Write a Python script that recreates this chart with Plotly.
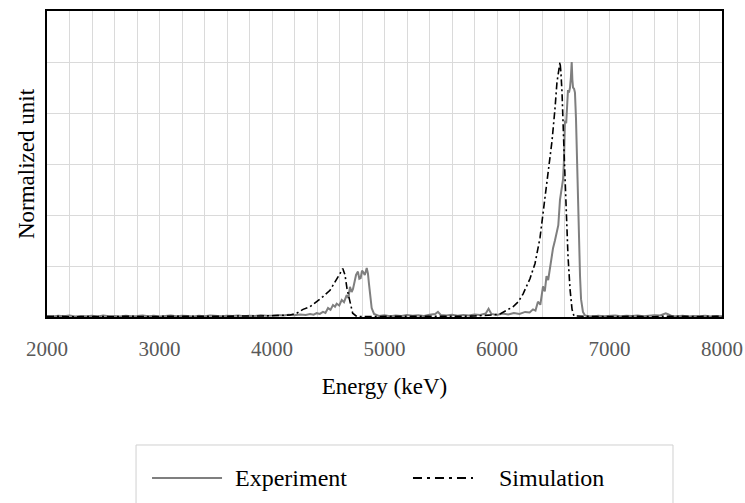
import plotly.graph_objects as go

# ---------------- data ----------------
exp_energy = [
    2000, 2050, 2100, 2150, 2200, 2250, 2300, 2350, 2400, 2450, 2500, 2550, 2600, 2650, 2700, 2750,
    2800, 2850, 2900, 2950, 3000, 3050, 3100, 3150, 3200, 3250, 3300, 3350, 3400, 3450, 3500, 3550,
    3600, 3650, 3700, 3750, 3800, 3850, 3900, 3950, 4000, 4050, 4100, 4150, 4200, 4250, 4300,
    4338, 4370, 4397, 4425, 4453, 4475, 4498, 4520, 4542, 4560, 4575, 4598, 4620, 4640, 4664, 4680,
    4693, 4708, 4720, 4735, 4747, 4764, 4776, 4788, 4800, 4809, 4825, 4842, 4853, 4862, 4871, 4886,
    4907, 4930,
    4950, 5000, 5050, 5100, 5150, 5200, 5250, 5300, 5350, 5400, 5450, 5475, 5500, 5550, 5600, 5650,
    5700, 5750, 5800, 5850, 5900, 5925, 5950, 6000, 6050, 6100, 6150, 6200, 6250, 6290,
    6320, 6342, 6364, 6385, 6409, 6425, 6440, 6455, 6471, 6485, 6498, 6515, 6533, 6545, 6560, 6575,
    6587, 6596, 6604, 6615, 6631, 6640, 6649, 6657, 6664, 6670, 6676, 6685, 6693, 6702, 6711, 6720,
    6729, 6738, 6747, 6756, 6764, 6782,
    6800, 6850, 6900, 6950, 7000, 7050, 7100, 7150, 7200, 7250, 7300, 7350, 7400, 7450, 7500, 7525,
    7550, 7600, 7650, 7700, 7750, 7800, 7850, 7900, 7950, 8000,
]
exp_counts = [
    0.004, 0.002, 0.005, 0.003, 0.006, 0.002, 0.004, 0.003, 0.005, 0.002, 0.006, 0.003, 0.004, 0.002, 0.005, 0.003,
    0.004, 0.006, 0.003, 0.005, 0.002, 0.004, 0.006, 0.003, 0.005, 0.004, 0.002, 0.005, 0.003, 0.006, 0.004, 0.003,
    0.005, 0.004, 0.006, 0.003, 0.005, 0.004, 0.007, 0.005, 0.006, 0.008, 0.006, 0.009, 0.007, 0.010, 0.008,
    0.012, 0.009, 0.015, 0.012, 0.020, 0.016, 0.035, 0.028, 0.047, 0.040, 0.052, 0.045, 0.067, 0.058, 0.086, 0.075,
    0.118, 0.098, 0.110, 0.140, 0.165, 0.178, 0.150, 0.153, 0.182, 0.177, 0.165, 0.192, 0.170, 0.130, 0.086, 0.035,
    0.012, 0.006,
    0.004, 0.007, 0.003, 0.006, 0.004, 0.008, 0.005, 0.007, 0.004, 0.009, 0.012, 0.020, 0.008, 0.006, 0.009, 0.005,
    0.008, 0.006, 0.010, 0.008, 0.014, 0.032, 0.012, 0.008, 0.014, 0.010, 0.016, 0.012, 0.020, 0.018,
    0.030, 0.025, 0.060, 0.048, 0.120, 0.100, 0.160, 0.145, 0.200, 0.230, 0.270, 0.300, 0.340, 0.360, 0.460, 0.500,
    0.540, 0.620, 0.770, 0.760, 0.890, 0.880, 0.900, 0.940, 1.000, 0.930, 0.900, 0.895, 0.880, 0.780, 0.600, 0.450,
    0.300, 0.160, 0.070, 0.035, 0.020, 0.006,
    0.004, 0.002, 0.005, 0.003, 0.004, 0.006, 0.003, 0.005, 0.004, 0.006, 0.003, 0.005, 0.007, 0.006, 0.014, 0.010,
    0.004, 0.003, 0.005, 0.002, 0.004, 0.003, 0.005, 0.002, 0.004, 0.003,
]

sim_energy = [
    2000, 2100, 2200, 2300, 2400, 2500, 2600, 2700, 2800, 2900, 3000, 3100, 3200, 3300, 3400, 3500,
    3600, 3700, 3800, 3900, 4000, 4100,
    4160, 4220, 4276, 4338, 4397, 4453, 4516, 4560, 4604, 4629, 4649, 4667, 4693, 4717, 4753,
    4800, 4900, 5000, 5100, 5200, 5300, 5400, 5500, 5600, 5700, 5800, 5900,
    5960, 6027, 6085, 6142, 6190, 6231, 6293, 6338, 6382, 6409, 6444, 6489, 6516, 6533, 6550, 6560,
    6568, 6578, 6596, 6613, 6631, 6649, 6667, 6684,
    6750, 6800, 6900, 7000, 7100, 7200, 7300, 7400, 7500, 7600, 7700, 7800, 7900, 8000,
]
sim_counts = [
    0.002, 0.003, 0.001, 0.002, 0.003, 0.002, 0.001, 0.003, 0.002, 0.002, 0.003, 0.001, 0.002, 0.003, 0.002, 0.002,
    0.003, 0.004, 0.003, 0.004, 0.005, 0.006,
    0.008, 0.015, 0.030, 0.040, 0.060, 0.080, 0.105, 0.135, 0.170, 0.190, 0.165, 0.110, 0.060, 0.015, 0.002,
    0.002, 0.001, 0.002, 0.003, 0.002, 0.001, 0.002, 0.003, 0.002, 0.003, 0.004, 0.006,
    0.008, 0.012, 0.025, 0.040, 0.060, 0.090, 0.150, 0.210, 0.310, 0.410, 0.530, 0.690, 0.820, 0.920, 0.970, 1.000,
    0.960, 0.880, 0.650, 0.420, 0.240, 0.110, 0.030, 0.004,
    0.002, 0.003, 0.002, 0.001, 0.002, 0.003, 0.002, 0.001, 0.003, 0.002, 0.001, 0.002, 0.003, 0.002,
]

x_ticks = [2000, 3000, 4000, 5000, 6000, 7000, 8000]
series_names = ["Experiment", "Simulation"]

# ---------------- styles ----------------
FONT = "Liberation Serif"
EXP_COLOR = "#7f7f7f"
SIM_COLOR = "#000000"
SIM_DASH = "7px,3px,2px,3px"
GRID = "#dadada"

fig = go.Figure()
fig.add_trace(go.Scatter(x=exp_energy, y=exp_counts, mode="lines", name=series_names[0],
                         line=dict(color=EXP_COLOR, width=2), showlegend=False))
fig.add_trace(go.Scatter(x=sim_energy, y=sim_counts, mode="lines", name=series_names[1],
                         line=dict(color=SIM_COLOR, width=1.6, dash=SIM_DASH), showlegend=False))

# Manual legend (box, samples, labels) in paper coordinates
fig.add_shape(type="rect", xref="paper", yref="paper", x0=0.1319, x1=0.9274, y0=-0.4183, y1=-0.66,
              line=dict(color="#d0d0d0", width=1), fillcolor="rgba(0,0,0,0)")
leg_y = -0.5261
fig.add_shape(type="line", xref="paper", yref="paper", x0=0.1556, x1=0.2593, y0=leg_y, y1=leg_y,
              line=dict(color=EXP_COLOR, width=2))
fig.add_shape(type="line", xref="paper", yref="paper", x0=0.5422, x1=0.6311, y0=leg_y, y1=leg_y,
              line=dict(color=SIM_COLOR, width=2.2, dash="9px,5px,3px,5px"))
fig.add_annotation(xref="paper", yref="paper", x=0.2756, y=leg_y, text=series_names[0],
                   showarrow=False, xanchor="left", yanchor="middle",
                   font=dict(family=FONT, size=24, color="#000000"))
fig.add_annotation(xref="paper", yref="paper", x=0.6667, y=leg_y, text=series_names[1],
                   showarrow=False, xanchor="left", yanchor="middle",
                   font=dict(family=FONT, size=24, color="#000000"))

fig.update_layout(
    width=745, height=503,
    margin=dict(l=47, r=23, t=11, b=186),
    paper_bgcolor="white", plot_bgcolor="white",
    font=dict(family=FONT, color="#000000"),
    showlegend=False,
)
fig.update_xaxes(
    range=[2000, 8000], tickvals=x_ticks, ticktext=[str(v) for v in x_ticks],
    tickfont=dict(family=FONT, size=21, color="#595959"),
    ticks="outside", ticklen=12, tickcolor="rgba(0,0,0,0)",
    showgrid=True, gridcolor=GRID, gridwidth=1,
    minor=dict(dtick=200, showgrid=True, gridcolor=GRID, gridwidth=1, ticks=""),
    showline=True, linecolor="#000000", linewidth=1.5, mirror=True,
    zeroline=False, automargin=False,
    title=dict(text="Energy (keV)", font=dict(family=FONT, size=23, color="#000000"), standoff=18),
)
fig.update_yaxes(
    range=[0, 1.2], dtick=0.2, showticklabels=False, ticks="",
    showgrid=True, gridcolor=GRID, gridwidth=1,
    showline=True, linecolor="#000000", linewidth=1.5, mirror=True,
    zeroline=False, automargin=False,
    title=dict(text="Normalized unit", font=dict(family=FONT, size=23, color="#000000"), standoff=4),
)

fig.write_html("out.html")
